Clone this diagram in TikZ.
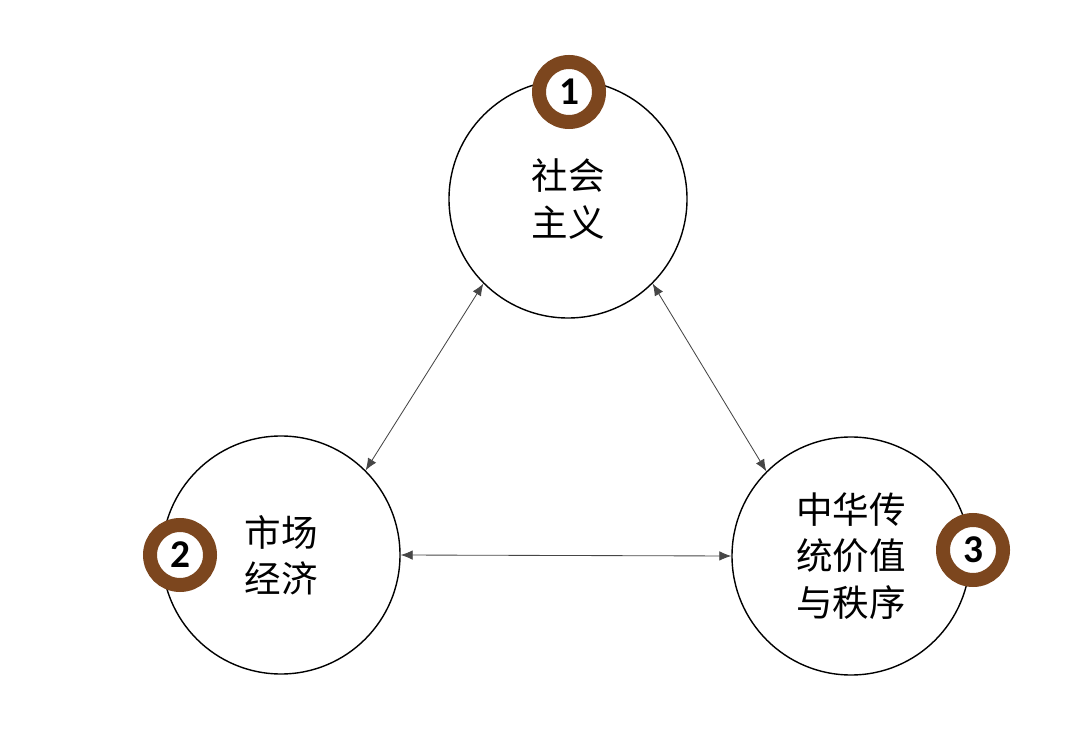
\documentclass[tikz,border=0pt]{standalone}
\usepackage{fontspec}
\setmainfont{Noto Sans CJK SC}
\newfontfamily\numfont{Carlito}
\usepackage{xcolor}
\usepackage{tikz}
\usetikzlibrary{arrows.meta}
\definecolor{ringbrown}{RGB}{124,70,30}
\definecolor{linkgray}{RGB}{70,70,70}

\begin{document}
\begin{tikzpicture}[
  font=\fontsize{26}{33}\selectfont,
  idea/.style={draw=black, line width=1pt, circle, fill=white, align=center, minimum size=5.95cm, inner sep=0pt},
  badge/.style={draw=ringbrown, line width=0.35cm, circle, fill=white, minimum size=1.5cm, inner sep=0pt, font=\numfont\bfseries\fontsize{28}{28}\selectfont},
  link/.style={draw=linkgray, line width=0.6pt, {Latex[length=3mm,width=2.4mm]}-{Latex[length=3mm,width=2.4mm]}}
]
\useasboundingbox (0,0) rectangle (27,18.5);

\node[idea] (soc) at (14.2,13.525) {社会\\主义};
\node[idea] (mkt) at (7.025,4.625) {市场\\经济};
\node[idea] (trad) at (21.275,4.6) {中华传\\统价值\\与秩序};

\node[badge] (b1) at (14.225,16.2) {1};
\node[badge] (b2) at (4.5,4.625) {2};
\node[badge] (b3) at (24.325,4.75) {3};

\draw[link] (soc.225) -- (mkt.45);
\draw[link] (soc.-45) -- (trad.135);
\draw[link] (mkt.0) -- (trad.180);
\end{tikzpicture}
\end{document}
